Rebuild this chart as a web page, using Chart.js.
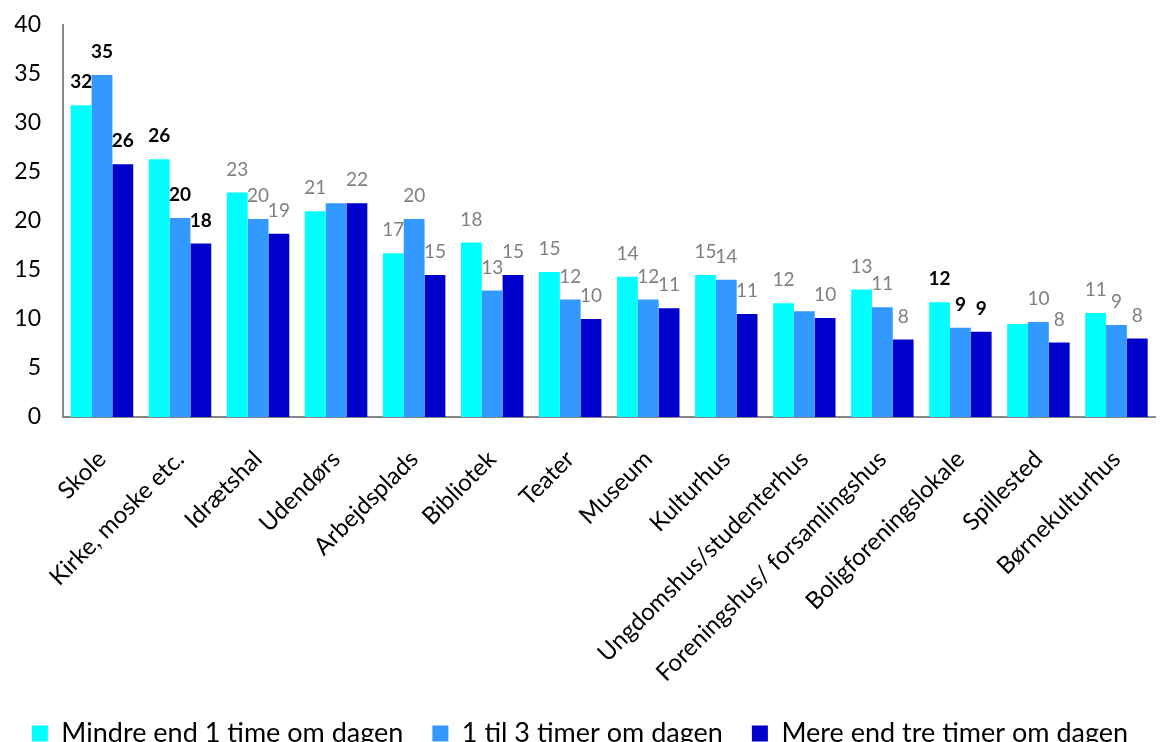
<!DOCTYPE html>
<html lang="da">
<head>
<meta charset="UTF-8">
<title>Steder</title>
<style>
    body { margin: 0; background: #fff; }
    #wrap { width: 1165px; height: 742px; }
</style>
</head>
<body>
<div id="wrap"><canvas id="chart"></canvas></div>
<script src="https://cdn.jsdelivr.net/npm/chart.js"></script>
<script>
// kategorier og serier
const categories = ['Skole', 'Kirke, moske etc.', 'Idrætshal', 'Udendørs', 'Arbejdsplads', 'Bibliotek', 'Teater',
    'Museum', 'Kulturhus', 'Ungdomshus/studenterhus', 'Foreningshus/ forsamlingshus', 'Boligforeningslokale',
    'Spillested', 'Børnekulturhus'];
const seriesNames = ['Mindre end 1 time om dagen', '1 til 3 timer om dagen', 'Mere end tre timer om dagen'];

const under1 = [31.8, 26.3, 22.9, 21.0, 16.7, 17.8, 14.8, 14.3, 14.5, 11.6, 13.0, 11.7, 9.5, 10.6];
const oneToThree = [34.9, 20.3, 20.2, 21.8, 20.2, 12.9, 12.0, 12.0, 14.0, 10.8, 11.2, 9.1, 9.7, 9.4];
const over3 = [25.8, 17.7, 18.7, 21.8, 14.5, 14.5, 10.0, 11.1, 10.5, 10.1, 7.9, 8.7, 7.6, 8.0];

// etiketter som de står på figuren (null = ingen etiket)
const labelsUnder1 = ['32', '26', '23', '21', '17', '18', '15', '14', '15', '12', '13', '12', null, '11'];
const labelsOneToThree = ['35', '20', '20', null, '20', '13', '12', '12', '14', null, '11', '9', '10', '9'];
const labelsOver3 = ['26', '18', '19', '22', '15', '15', '10', '11', '11', '10', '8', '9', '8', '8'];
const boldCategories = [true, true, false, false, false, false, false, false, false, false, false, true, false, false];

const yTicks = [0, 5, 10, 15, 20, 25, 30, 35, 40];

const FONT = 'Lato';
const allLabels = [labelsUnder1, labelsOneToThree, labelsOver3];

const barLabels = {
    id: 'barLabels',
    afterDatasetsDraw(chart) {
        const ctx = chart.ctx;
        ctx.save();
        ctx.textAlign = 'center';
        ctx.textBaseline = 'middle';
        chart.data.datasets.forEach((ds, di) => {
            const meta = chart.getDatasetMeta(di);
            meta.data.forEach((bar, i) => {
                const txt = allLabels[di][i];
                if (txt === null) return;
                const bold = boldCategories[i];
                ctx.font = (bold ? 'bold ' : '') + '19px ' + FONT;
                ctx.fillStyle = bold ? '#000000' : '#808080';
                ctx.fillText(txt, bar.x, bar.y - 23);
            });
        });
        ctx.restore();
    }
};

new Chart(document.getElementById('chart'), {
    type: 'bar',
    data: {
        labels: categories,
        datasets: [
            { label: seriesNames[0], data: under1, backgroundColor: '#00FFFF' },
            { label: seriesNames[1], data: oneToThree, backgroundColor: '#3399FF' },
            { label: seriesNames[2], data: over3, backgroundColor: '#0000CC' }
        ]
    },
    options: {
        responsive: true,
        maintainAspectRatio: false,
        animation: false,
        layout: { padding: { top: 25, right: 5, left: 0, bottom: -15 } },
        datasets: { bar: { categoryPercentage: 0.8, barPercentage: 1.0 } },
        plugins: {
            tooltip: { enabled: false },
            legend: {
                position: 'bottom',
                labels: {
                    boxWidth: 16,
                    boxHeight: 16,
                    padding: 29,
                    color: '#000',
                    font: { family: FONT, size: 27 }
                }
            }
        },
        scales: {
            x: {
                grid: { display: false, drawTicks: false },
                border: { color: '#868686', width: 2 },
                ticks: {
                    autoSkip: false,
                    maxRotation: 45,
                    minRotation: 45,
                    padding: 28,
                    color: '#000',
                    font: { family: FONT, size: 24 }
                },
                afterFit(scale) { scale.height = 274; }
            },
            y: {
                min: 0,
                max: 40,
                grid: { display: false, drawTicks: false },
                border: { color: '#868686', width: 2 },
                afterBuildTicks(scale) { scale.ticks = yTicks.map(v => ({ value: v })); },
                ticks: {
                    padding: 22,
                    color: '#000',
                    font: { family: FONT, size: 23 }
                },
                afterFit(scale) {
                    scale.width = 63;
                    scale.paddingTop = 10;
                    scale.paddingBottom = 10;
                }
            }
        }
    },
    plugins: [barLabels]
});
</script>
</body>
</html>
